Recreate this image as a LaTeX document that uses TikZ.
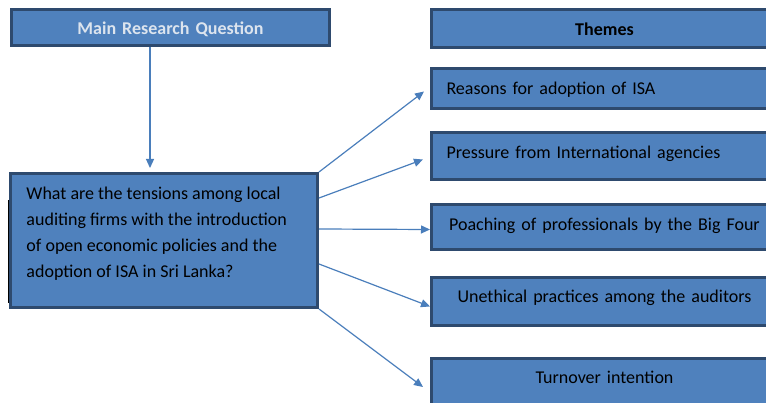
\documentclass[tikz,border=0pt]{standalone}
\usepackage{fontspec}
\setmainfont{Carlito}
\usetikzlibrary{arrows.meta,calc}
\definecolor{boxfill}{HTML}{4F81BD}
\definecolor{boxline}{HTML}{2E4A6E}
\definecolor{linkblue}{HTML}{4A7EBB}
\definecolor{headtext}{HTML}{DCE4EE}
\begin{document}
\begin{tikzpicture}[x=1pt,y=-1pt,
  box/.style={draw=boxline, fill=boxfill, line width=3pt, rectangle,
    anchor=north west, inner xsep=15pt, inner ysep=0pt,
    font=\fontsize{18}{21}\selectfont, text height=13pt, text depth=4pt},
  leftbox/.style={box, text width=316pt, align=left},
  midbox/.style={box, text width=316pt, align=center},
  link/.style={draw=linkblue, line width=1.2pt,
    -{Triangle[length=9pt,width=8pt]}}]
\useasboundingbox (0,0) rectangle (766,403);
\clip (0,0) rectangle (766,403);
% header boxes
\node[midbox, text width=288pt, minimum height=36pt, text height=19pt, text=headtext,
  font=\fontsize{18}{21}\selectfont\bfseries]
  (main) at (10,8) {Main Research Question};
\node[midbox, minimum height=38pt, text height=19pt, font=\fontsize{18}{21}\selectfont\bfseries]
  (themes) at (430,8) {Themes};
% research question
\node[draw=boxline, fill=boxfill, line width=3pt, anchor=north west,
  inner xsep=16pt, inner ysep=14pt]
  (question) at (9,172) {\parbox[t][106pt][t]{275pt}{\fontsize{18}{26}\selectfont\raggedright
  What are the tensions among local\\
  auditing firms with the introduction\\
  of open economic policies and the\\
  adoption of ISA in Sri Lanka?}};
\draw[black, line width=1pt] (8,200) -- (8,303);
% theme boxes
\node[leftbox, minimum height=40pt, text height=17pt] (reasons) at (430,67) {Reasons for adoption of ISA};
\node[leftbox, minimum height=47pt, text depth=7pt] (pressure) at (430,131) {Pressure from International agencies};
\node[midbox, minimum height=45pt, text depth=5pt] (poaching) at (430,203) {Poaching of professionals by the Big Four};
\node[midbox, minimum height=48pt, text depth=11pt] (unethical) at (430,276) {Unethical practices among the auditors};
\node[midbox, minimum height=49pt, text depth=12pt] (turnover) at (430,357) {Turnover intention};
% connectors
\draw[link] (main.south -| 150,0) -- (150,168);
\draw[link] (question.north east) -- ($(reasons.west)+(-6,3)$);
\draw[link] ($(question.north east)+(0,26)$) -- ($(pressure.west)+(-7,3.5)$);
\draw[link] ($(question.north east)+(0,57)$) -- ($(poaching.west)+(0,2.5)$);
\draw[link] ($(question.north east)+(0,92)$) -- ($(unethical.west)+(0,5)$);
\draw[link] (question.south east) -- ($(turnover.west)+(-7,4)$);
\end{tikzpicture}
\end{document}
